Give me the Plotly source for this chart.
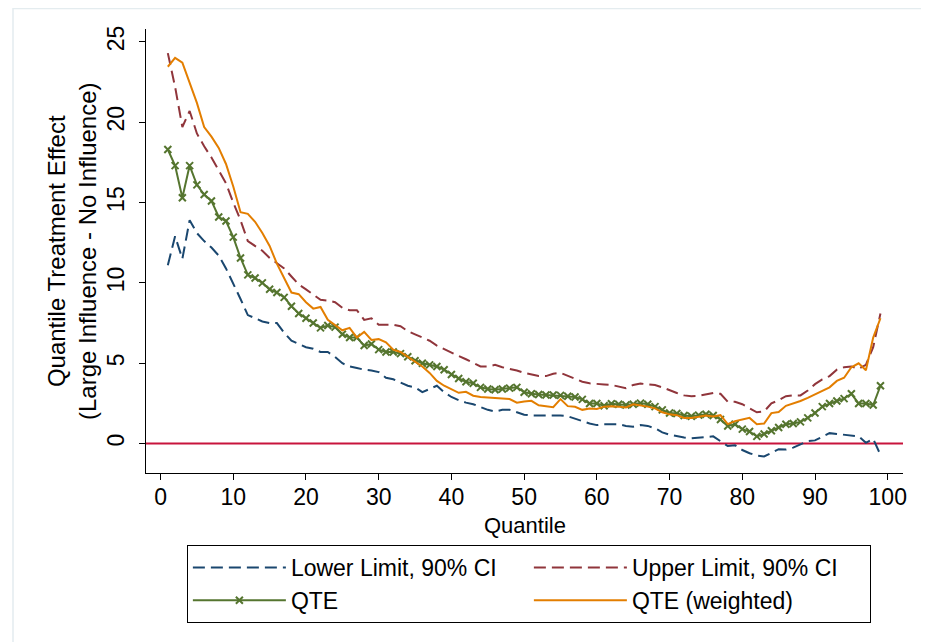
import plotly.graph_objects as go

quantile = list(range(1, 100))

lower_limit = [
    11.1, 12.9, 11.5, 13.9, 13.1, 12.6, 12.2, 11.7, 10.9, 10.0,
    9.0, 8.0, 7.8, 7.6, 7.5, 7.5, 6.9, 6.4, 6.2, 6.0,
    5.9, 5.7, 5.7, 5.4, 5.0, 4.8, 4.7, 4.6, 4.55, 4.45,
    4.1, 4.0, 3.8, 3.6, 3.5, 3.2, 3.4, 3.6, 3.2, 2.9,
    2.7, 2.55, 2.45, 2.25, 2.1, 2.0, 2.1, 2.1, 1.95, 1.8,
    1.75, 1.75, 1.75, 1.75, 1.75, 1.7, 1.55, 1.4, 1.25, 1.15,
    1.2, 1.2, 1.2, 1.1, 1.05, 1.15, 1.1, 0.95, 0.7, 0.55,
    0.45, 0.38, 0.33, 0.38, 0.42, 0.45, 0.15, -0.15, -0.1, -0.4,
    -0.6, -0.75, -0.8, -0.6, -0.35, -0.37, -0.25, -0.05, 0.15, 0.2,
    0.45, 0.65, 0.6, 0.55, 0.5, 0.45, 0.05, 0.3, -0.7,
]

upper_limit = [
    24.3, 22.2, 19.7, 20.7, 19.3, 18.5, 17.8, 17.0, 16.2, 15.0,
    13.9, 12.6, 12.3, 12.0, 11.55, 11.2, 10.9, 10.4, 9.9, 9.6,
    9.3, 8.95, 8.9, 8.8, 8.45, 8.3, 8.3, 7.7, 7.8, 7.4,
    7.4, 7.4, 7.3, 7.0, 6.8, 6.6, 6.4, 6.1, 5.9, 5.65,
    5.45, 5.25, 5.0, 4.8, 4.8, 4.9, 4.75, 4.65, 4.55, 4.4,
    4.3, 4.2, 4.2, 4.35, 4.4, 4.2, 4.0, 3.85, 3.75, 3.7,
    3.68, 3.65, 3.55, 3.45, 3.65, 3.74, 3.68, 3.64, 3.5, 3.3,
    3.15, 3.0, 2.95, 2.97, 3.05, 3.15, 3.1, 2.6, 2.6, 2.45,
    2.2, 1.95, 2.0, 2.5, 2.7, 2.95, 3.0, 3.0, 3.3, 3.7,
    4.0, 4.2, 4.6, 4.75, 4.8, 4.65, 4.9, 6.0, 8.1,
]

qte = [
    18.3, 17.3, 15.3, 17.3, 16.1, 15.5, 15.1, 14.1, 13.85, 12.85,
    11.55, 10.5, 10.3, 10.0, 9.6, 9.4, 9.1, 8.55, 8.1, 7.8,
    7.5, 7.2, 7.35, 7.25, 6.8, 6.6, 6.6, 6.1, 6.2, 5.85,
    5.7, 5.7, 5.6, 5.4, 5.15, 5.0, 4.9, 4.8, 4.6, 4.3,
    4.05, 3.85, 3.75, 3.5, 3.4, 3.35, 3.4, 3.45, 3.5, 3.2,
    3.1, 3.05, 3.02, 3.02, 3.0, 2.95, 2.9, 2.75, 2.5, 2.5,
    2.35, 2.48, 2.45, 2.4, 2.45, 2.52, 2.45, 2.3, 2.1, 1.9,
    1.87, 1.75, 1.7, 1.77, 1.83, 1.75, 1.5, 1.1, 1.2, 0.9,
    0.75, 0.45, 0.6, 0.8, 1.0, 1.2, 1.25, 1.35, 1.6, 1.9,
    2.3, 2.5, 2.65, 2.8, 3.1, 2.5, 2.5, 2.4, 3.6,
]

qte_weighted = [
    23.45, 24.0, 23.7, 22.4, 21.2, 19.7, 19.1, 18.4, 17.4, 16.0,
    14.4, 14.3, 13.8, 13.1, 12.3, 11.2, 10.3, 9.4, 9.3, 8.8,
    8.4, 8.5, 7.7, 7.4, 7.05, 7.2, 6.6, 6.95, 6.45, 6.5,
    6.3, 5.85, 5.7, 5.4, 5.1, 4.8, 4.4, 3.9, 3.6, 3.4,
    3.16, 3.22, 2.98, 2.9, 2.88, 2.82, 2.8, 2.77, 2.55, 2.62,
    2.66, 2.38, 2.32, 2.27, 2.77, 2.33, 2.29, 2.1, 2.18, 2.15,
    2.3, 2.33, 2.3, 2.25, 2.45, 2.38, 2.3, 2.19, 1.95, 1.82,
    1.77, 1.6, 1.6, 1.67, 1.75, 1.68, 1.77, 1.21, 1.4, 1.5,
    1.6, 1.2, 1.25, 1.9, 1.97, 2.35, 2.5, 2.65, 2.85, 3.05,
    3.25, 3.5, 3.9, 4.1, 4.75, 5.0, 4.57, 6.6, 7.8,
]

x_ticks = [0, 10, 20, 30, 40, 50, 60, 70, 80, 90, 100]
y_ticks = [0, 5, 10, 15, 20, 25]

FONT = "Liberation Sans, Arial, sans-serif"
dash = "12px,6px"

L, T, PW, PH = 138, 21, 757, 444

fig = go.Figure()
fig.add_trace(go.Scatter(x=quantile, y=lower_limit, mode="lines", name="Lower Limit, 90% CI",
                         line=dict(color="#1a476f", width=2, dash=dash)))
fig.add_trace(go.Scatter(x=quantile, y=upper_limit, mode="lines", name="Upper Limit, 90% CI",
                         line=dict(color="#90353b", width=2, dash=dash)))
fig.add_trace(go.Scatter(x=quantile, y=qte, mode="lines+markers", name="QTE",
                         line=dict(color="#55752f", width=2),
                         marker=dict(symbol="x-thin", size=7, color="#55752f",
                                     line=dict(width=2, color="#55752f"))))
fig.add_trace(go.Scatter(x=quantile, y=qte_weighted, mode="lines", name="QTE (weighted)",
                         line=dict(color="#e37e00", width=2)))

fig.add_shape(type="line", xref="paper", x0=0, x1=1, yref="y", y0=0, y1=0,
              line=dict(color="#c8143c", width=2), layer="below")
# faint outer frame
fig.add_shape(type="rect", xref="paper", yref="paper",
              x0=(5 - L) / PW, x1=(918 - L) / PW,
              y0=(T + PH - 660) / PH, y1=(T + PH - 0.5) / PH,
              line=dict(color="#e4ecef", width=1.5), layer="below")

fig.add_annotation(xref="paper", yref="paper", x=0, y=0.5, xshift=-74,
                   text="Quantile Treatment Effect<br>(Large Influence - No Influence)",
                   textangle=-90, showarrow=False, xanchor="center", yanchor="middle",
                   font=dict(family=FONT, size=24, color="black"))
fig.add_annotation(xref="paper", yref="paper", x=0.5, y=(T + PH - 517) / PH,
                   text="Quantile", showarrow=False, xanchor="center", yanchor="middle",
                   font=dict(family=FONT, size=22, color="black"))

fig.update_layout(
    width=929, height=642,
    margin=dict(l=L, r=929 - L - PW, t=T, b=642 - T - PH),
    paper_bgcolor="white", plot_bgcolor="white",
    font=dict(family=FONT, size=23, color="black"),
    showlegend=True,
    legend=dict(orientation="h", x=0.054, y=-0.162, xanchor="left", yanchor="top",
                bordercolor="black", borderwidth=1, bgcolor="white",
                font=dict(family=FONT, size=23, color="black"),
                entrywidth=233, itemwidth=93, traceorder="normal",
                tracegroupgap=0),
)
fig.update_xaxes(range=[-2, 102.1], tickvals=x_ticks, ticks="outside", ticklen=6,
                 tickcolor="black", showline=True, linecolor="black", linewidth=1,
                 showgrid=False, zeroline=False, mirror=False, ticklabelstandoff=-3)
fig.update_yaxes(range=[-1.83, 25.8], tickvals=y_ticks, ticks="outside", ticklen=6,
                 tickcolor="black", showline=True, linecolor="black", linewidth=1,
                 showgrid=False, zeroline=False, tickangle=-90, ticklabelstandoff=6)

fig.write_html("out.html")
